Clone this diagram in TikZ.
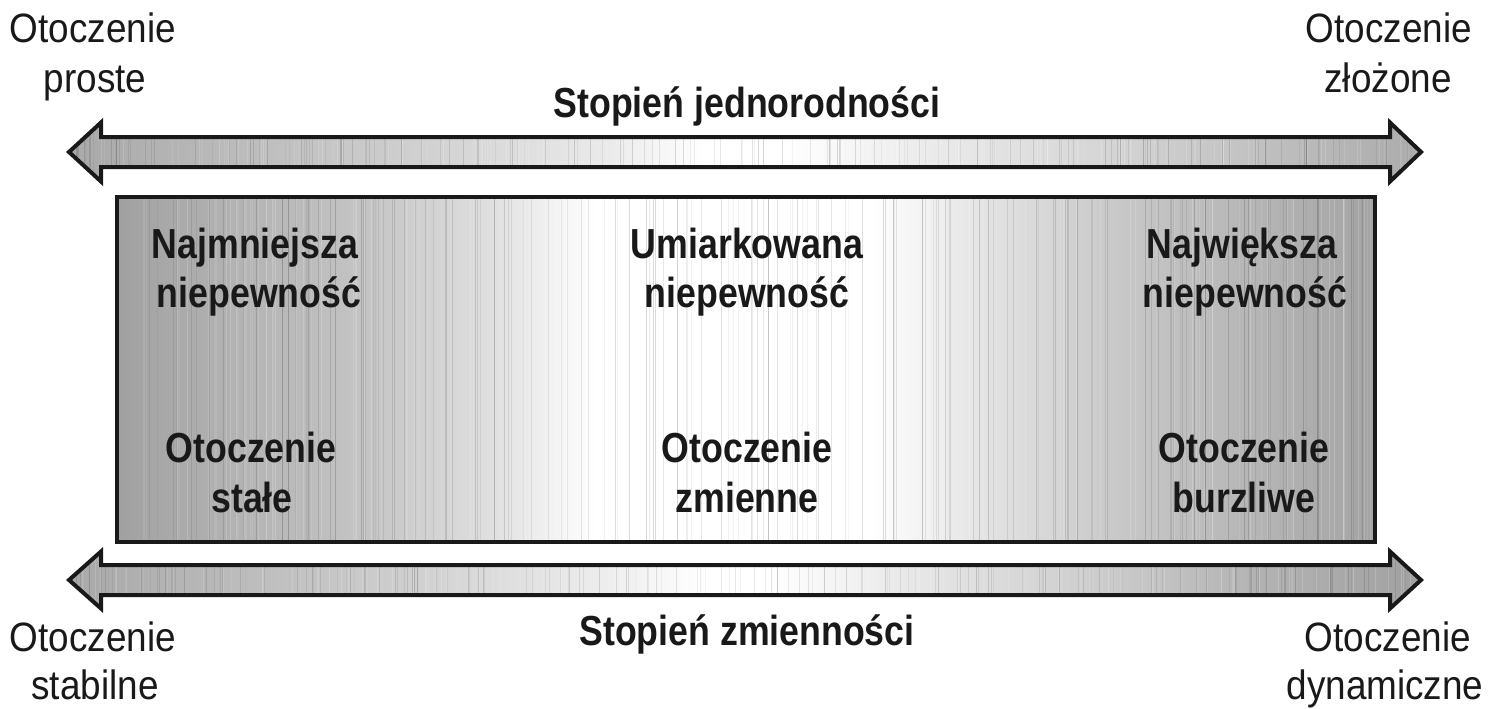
\documentclass[tikz,border=0pt]{standalone}
\usepackage{fontspec}
\newfontfamily\regf[FakeStretch=0.9]{Liberation Sans}
\newfontfamily\bldf[FakeStretch=0.85]{Liberation Sans Bold}
\pgfdeclarehorizontalshading{boxshade}{100bp}{color(0bp)=(black!37); color(25bp)=(black!37); color(29bp)=(black!31); color(35bp)=(black!23); color(40bp)=(black!12); color(44bp)=(white); color(55bp)=(white); color(59bp)=(black!10); color(65bp)=(black!22); color(71bp)=(black!30); color(75bp)=(black!36); color(100bp)=(black!36)}
\pgfdeclarehorizontalshading{topshade}{100bp}{color(0bp)=(black!34); color(25bp)=(black!34); color(30bp)=(black!28); color(37.5bp)=(black!19); color(45bp)=(black!8); color(48.5bp)=(white); color(51.5bp)=(white); color(56bp)=(black!7); color(63bp)=(black!16); color(70bp)=(black!26); color(75bp)=(black!33); color(100bp)=(black!33)}
\pgfdeclarehorizontalshading{botshade}{100bp}{color(0bp)=(black!34); color(25bp)=(black!34); color(30bp)=(black!28); color(37.5bp)=(black!19); color(46bp)=(black!5); color(48.5bp)=(white); color(51bp)=(white); color(56bp)=(black!9); color(62.5bp)=(black!19); color(69bp)=(black!30); color(75bp)=(black!37); color(100bp)=(black!37)}
\tikzset{
  reglabel/.style={anchor=base, inner sep=0pt, font=\regf\fontsize{20.5pt}{25pt}\selectfont, text=black!90},
  bldlabel/.style={anchor=base, inner sep=0pt, font=\bldf\fontsize{21pt}{25pt}\selectfont, text=black!90},
  outline/.style={draw=black!90, line width=2pt, line join=miter},
  streak/.style={line width=0.5pt},
}
\def\toparrow{(69,152) -- (101,122.5) -- (101,137) -- (1390,137) -- (1390,122.5) -- (1421,152)
  -- (1390,181.5) -- (1390,167) -- (101,167) -- (101,181.5) -- cycle}
\def\botarrow{(69,580) -- (101,551.5) -- (101,565) -- (1390,565) -- (1390,551.5) -- (1421,580)
  -- (1390,608.5) -- (1390,595) -- (101,595) -- (101,608.5) -- cycle}
\def\mainbox{(117,197) rectangle (1375,542)}
\newcommand\streaks[3]{% x0, width, yrange via clip
  \foreach \i in {1,...,#3}{
    \pgfmathsetmacro{\xx}{#1+#2*rnd}
    \pgfmathsetmacro{\oo}{0.06+0.14*rnd}
    \draw[streak, draw=white, opacity=\oo] (\xx,100) -- (\xx,620);
    \pgfmathsetmacro{\xy}{#1+#2*rnd}
    \pgfmathsetmacro{\op}{0.04+0.10*rnd}
    \draw[streak, draw=black, opacity=\op] (\xy,100) -- (\xy,620);
  }}
\begin{document}
\begin{tikzpicture}[x=0.5pt, y=-0.5pt]
\useasboundingbox (0,0) rectangle (1495,708);
\pgfmathsetseed{11}
% top arrow
\path[shade, shading=topshade] \toparrow;
\begin{scope}
  \clip \toparrow;
  \streaks{69}{1352}{160}
\end{scope}
\path[outline] \toparrow;
% bottom arrow
\path[shade, shading=botshade] \botarrow;
\begin{scope}
  \clip \botarrow;
  \streaks{69}{1352}{160}
\end{scope}
\path[outline] \botarrow;
% box
\path[shade, shading=boxshade] \mainbox;
\begin{scope}
  \clip \mainbox;
  \streaks{117}{1258}{160}
\end{scope}
\path[outline, line width=1.6pt] \mainbox;
% corner labels
\node[reglabel] (tl1) at (93,42) {Otoczenie};
\node[reglabel] (tl2) at (95,92) {proste};
\node[reglabel] (tr1) at (1389,42) {Otoczenie};
\node[reglabel] (tr2) at (1388,92) {złożone};
\node[reglabel] (bl1) at (93,651) {Otoczenie};
\node[reglabel] (bl2) at (95,699) {stabilne};
\node[reglabel] (br1) at (1388,651) {Otoczenie};
\node[reglabel] (br2) at (1385,699) {dynamiczne};
% axis titles
\node[bldlabel] (t1) at (747,117) {Stopień jednorodności};
\node[bldlabel] (t2) at (747,645) {Stopień zmienności};
% box texts
\node[bldlabel] (a1) at (255,258) {Najmniejsza};
\node[bldlabel] (a2) at (259,307) {niepewność};
\node[bldlabel] (b1) at (747,258) {Umiarkowana};
\node[bldlabel] (b2) at (747,307) {niepewność};
\node[bldlabel] (c1) at (1242,258) {Największa};
\node[bldlabel] (c2) at (1245,307) {niepewność};
\node[bldlabel] (d1) at (251,462) {Otoczenie};
\node[bldlabel] (d2) at (252,512) {stałe};
\node[bldlabel] (e1) at (747,462) {Otoczenie};
\node[bldlabel] (e2) at (747,512) {zmienne};
\node[bldlabel] (f1) at (1244,462) {Otoczenie};
\node[bldlabel] (f2) at (1244,512) {burzliwe};
\end{tikzpicture}
\end{document}
